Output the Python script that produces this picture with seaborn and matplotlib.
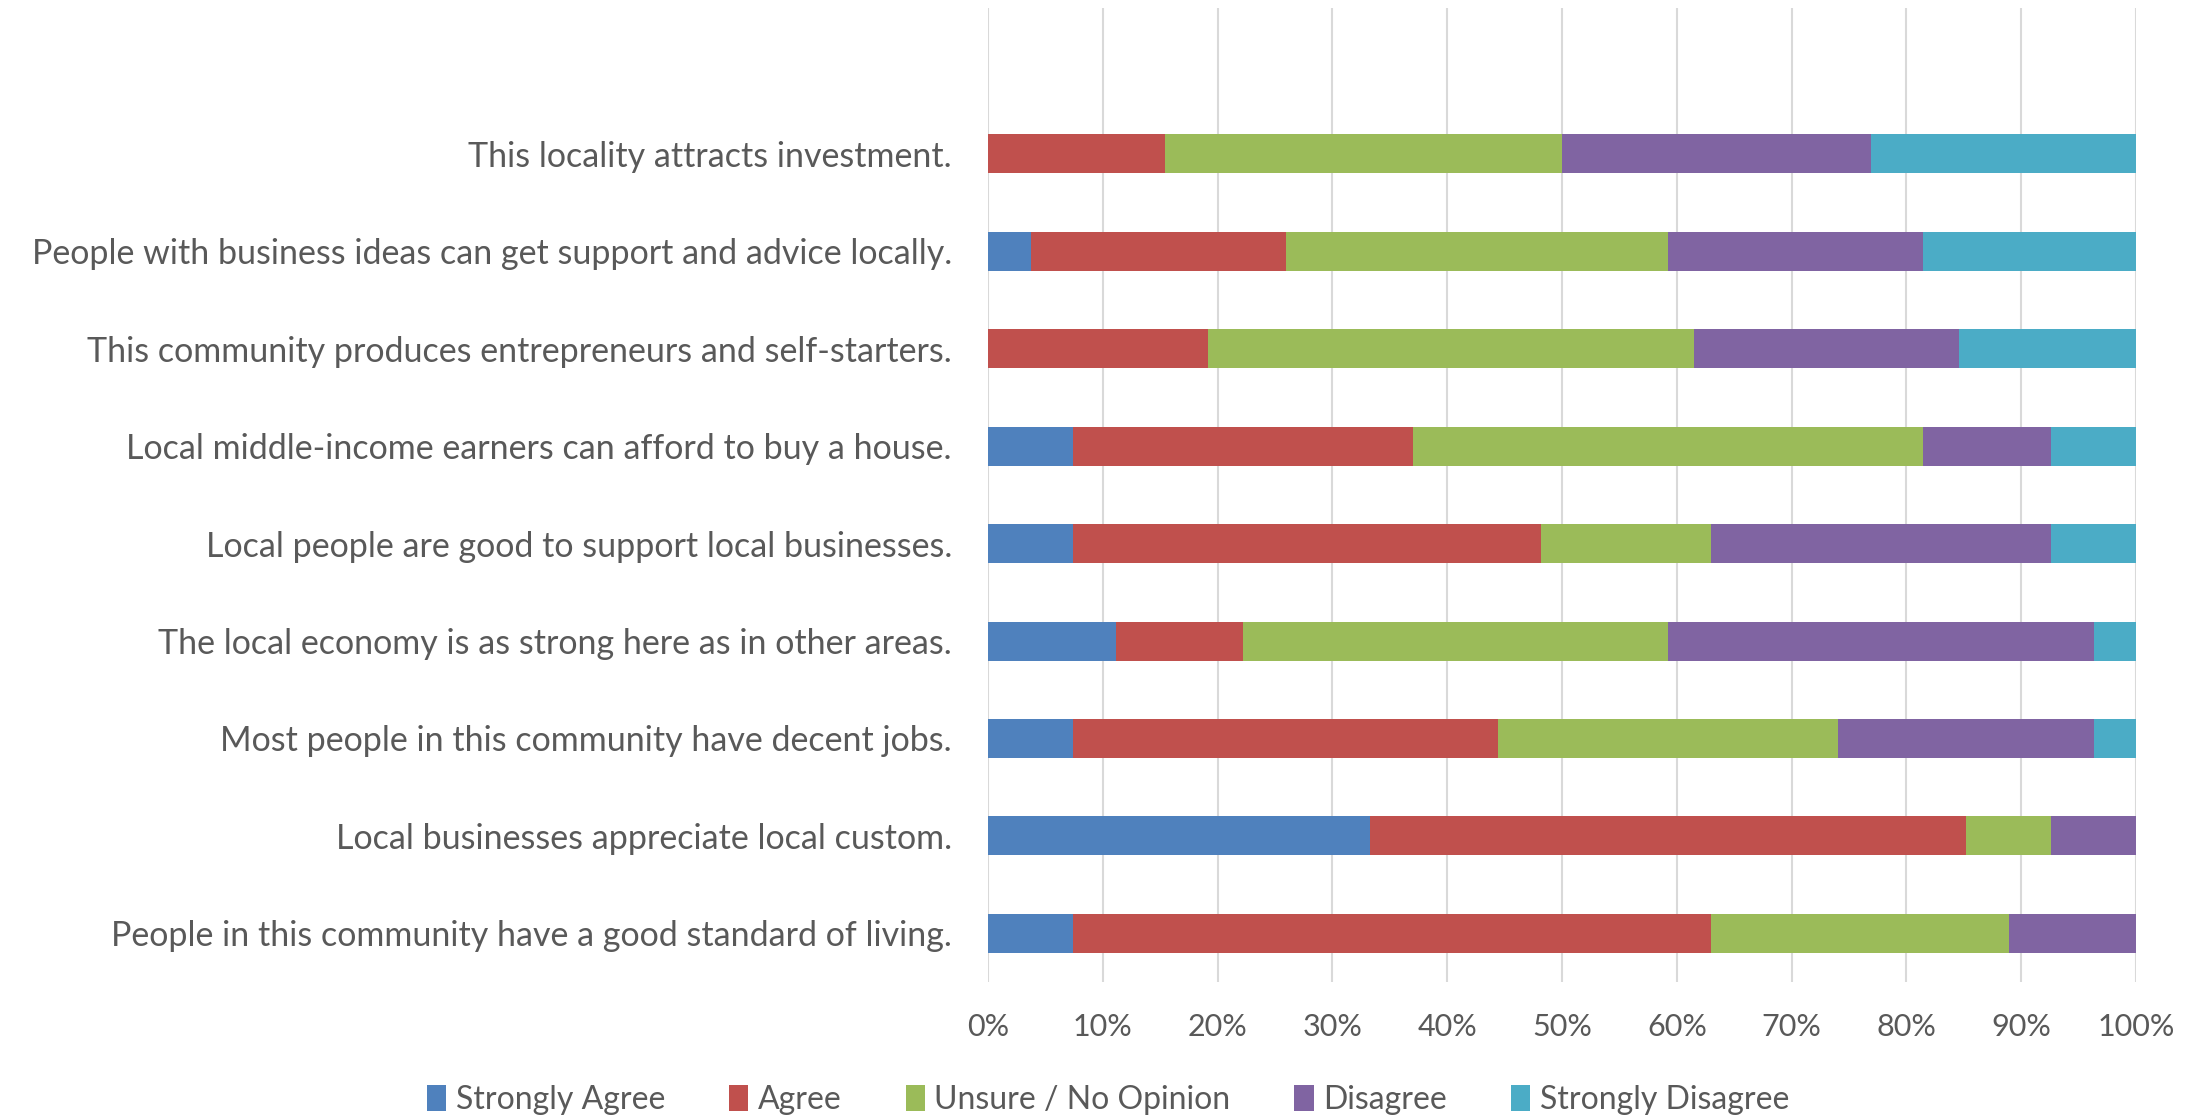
import numpy as np
import pandas as pd
import matplotlib.pyplot as plt
import seaborn as sns
from matplotlib.patches import Patch

statements = [
    "This locality attracts investment.",
    "People with business ideas can get support and advice locally.",
    "This community produces entrepreneurs and self-starters.",
    "Local middle-income earners can afford to buy a house.",
    "Local people are good to support local businesses.",
    "The local economy is as strong here as in other areas.",
    "Most people in this community have decent jobs.",
    "Local businesses appreciate local custom.",
    "People in this community have a good standard of living.",
]

responses = ["Strongly Agree", "Agree", "Unsure / No Opinion", "Disagree", "Strongly Disagree"]

strongly_agree = [0, 3.7, 0, 7.4, 7.4, 11.1, 7.4, 33.3, 7.4]
agree = [15.4, 22.2, 19.2, 29.6, 40.7, 11.1, 37.0, 51.9, 55.6]
unsure = [34.6, 33.3, 42.3, 44.4, 14.8, 37.0, 29.6, 7.4, 25.9]
disagree = [26.9, 22.2, 23.1, 11.1, 29.6, 37.0, 22.2, 7.4, 11.1]
strongly_disagree = [23.1, 18.5, 15.4, 7.4, 7.4, 3.7, 3.7, 0, 0]

colors = ["#4F81BD", "#C0504D", "#9BBB59", "#8064A2", "#4BACC6"]
text_color = "#595959"

sns.set_style("white")
plt.rcParams["font.family"] = ["Lato", "DejaVu Sans"]

df = pd.DataFrame({
    "statement": statements,
    "Strongly Agree": strongly_agree,
    "Agree": agree,
    "Unsure / No Opinion": unsure,
    "Disagree": disagree,
    "Strongly Disagree": strongly_disagree,
})
totals = df[responses].sum(axis=1)
cum = df[responses].cumsum(axis=1).div(totals, axis=0) * 100

fig = plt.figure(figsize=(22.03, 11.18), dpi=100)
ax = fig.add_axes([0.4485, 0.1216, 0.5211, 0.8714])

# draw from the last cumulative segment down so the earlier ones sit on top
for i in range(len(responses) - 1, -1, -1):
    d = pd.DataFrame({"statement": statements, "value": cum[responses[i]].values})
    sns.barplot(data=d, x="value", y="statement", order=statements, color=colors[i],
                saturation=1, width=0.4, ax=ax, orient="h", zorder=2, linewidth=0)

ax.set_xlim(0, 100)
ax.set_ylim(len(statements) - 0.5, -1.5)
ax.set_xticks(np.arange(0, 101, 10))
ax.set_xticklabels([f"{v}%" for v in range(0, 101, 10)])
ax.xaxis.grid(True, color="#D9D9D9", linewidth=1.5, zorder=0)
ax.set_axisbelow(True)
ax.set_xlabel("")
ax.set_ylabel("")
for s in ax.spines.values():
    s.set_visible(False)
ax.tick_params(axis="both", length=0, labelcolor=text_color)
ax.tick_params(axis="y", pad=26, labelsize=24.5)
ax.tick_params(axis="x", pad=22, labelsize=22)

handles = [Patch(facecolor=c, edgecolor="none") for c in colors]
fig.legend(handles, responses, loc="center", bbox_to_anchor=(0.503, 0.016), ncol=5,
           frameon=False, fontsize=23, labelcolor=text_color, handlelength=0.6,
           handleheight=0.9, handletextpad=0.3, columnspacing=2.0)

fig.savefig("out.png", dpi=100)
